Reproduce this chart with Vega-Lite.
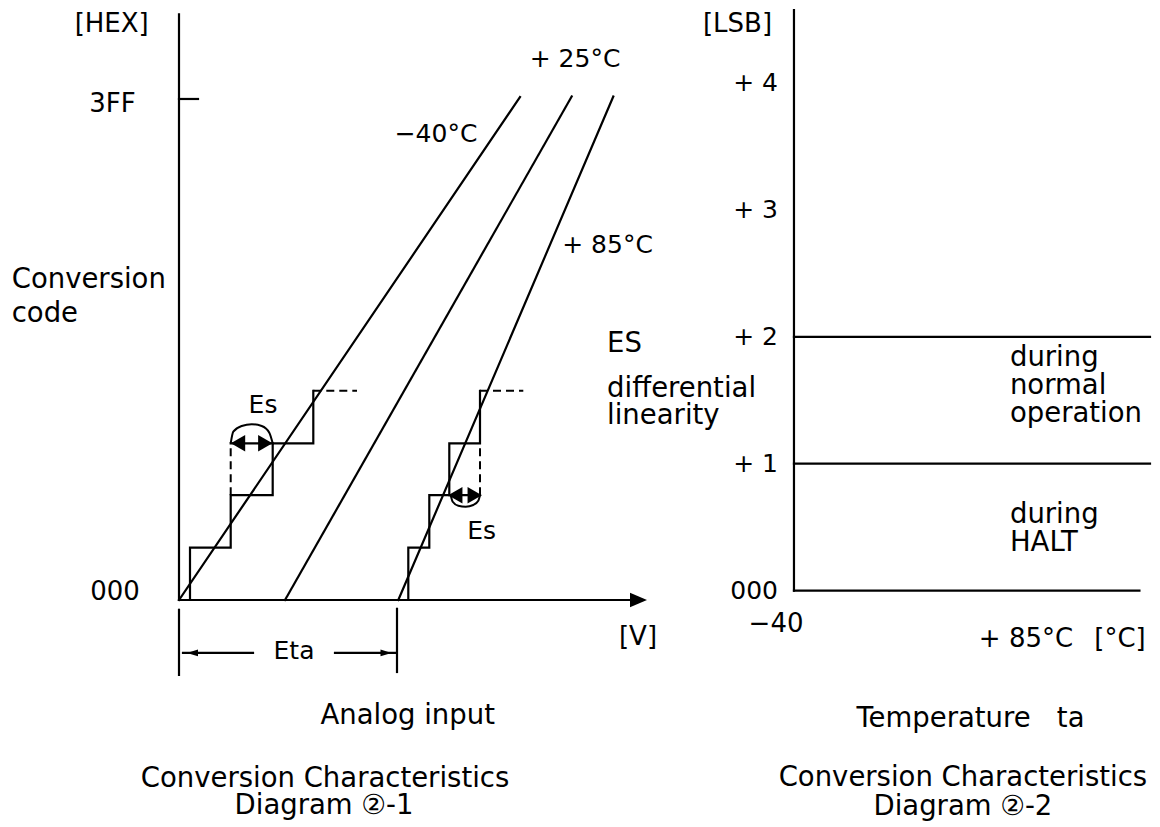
{
  "$schema": "https://vega.github.io/schema/vega-lite/v6.json",
  "width": 1160,
  "height": 827,
  "padding": 0,
  "autosize": {"type": "fit", "contains": "padding"},
  "background": "white",
  "config": {
    "view": {"stroke": null},
    "font": "DejaVu Sans",
    "text": {"font": "DejaVu Sans", "color": "black"},
    "line": {"color": "black", "strokeWidth": 2.2}
  },
  "datasets": {
    "leftLines": [
      {"id": "axis_y", "seq": 1, "v": 0, "code": 0}, {"id": "axis_y", "seq": 2, "v": 0, "code": 1196},
      {"id": "axis_x", "seq": 1, "v": 0, "code": 0}, {"id": "axis_x", "seq": 2, "v": 4.55, "code": 0},
      {"id": "tick_3ff", "seq": 1, "v": 0, "code": 1023}, {"id": "tick_3ff", "seq": 2, "v": 0.19, "code": 1023},
      {"id": "ta_m40", "seq": 1, "v": 0, "code": 0}, {"id": "ta_m40", "seq": 2, "v": 3.41, "code": 1027},
      {"id": "ta_25", "seq": 1, "v": 1.06, "code": 0}, {"id": "ta_25", "seq": 2, "v": 3.927, "code": 1028},
      {"id": "ta_85", "seq": 1, "v": 2.193, "code": 0}, {"id": "ta_85", "seq": 2, "v": 4.343, "code": 1028},
      {"id": "stair_m40", "seq": 1, "v": 0.11, "code": 0}, {"id": "stair_m40", "seq": 2, "v": 0.11, "code": 107},
      {"id": "stair_m40", "seq": 3, "v": 0.517, "code": 107}, {"id": "stair_m40", "seq": 4, "v": 0.517, "code": 214},
      {"id": "stair_m40", "seq": 5, "v": 0.937, "code": 214}, {"id": "stair_m40", "seq": 6, "v": 0.937, "code": 320},
      {"id": "stair_m40", "seq": 7, "v": 1.343, "code": 320}, {"id": "stair_m40", "seq": 8, "v": 1.343, "code": 427},
      {"id": "stair_85", "seq": 1, "v": 2.293, "code": 0}, {"id": "stair_85", "seq": 2, "v": 2.293, "code": 107},
      {"id": "stair_85", "seq": 3, "v": 2.503, "code": 107}, {"id": "stair_85", "seq": 4, "v": 2.503, "code": 214},
      {"id": "stair_85", "seq": 5, "v": 2.703, "code": 214}, {"id": "stair_85", "seq": 6, "v": 2.703, "code": 320},
      {"id": "stair_85", "seq": 7, "v": 3.01, "code": 320}, {"id": "stair_85", "seq": 8, "v": 3.01, "code": 427},
      {"id": "es_m40", "seq": 1, "v": 0.517, "code": 320}, {"id": "es_m40", "seq": 2, "v": 0.937, "code": 320},
      {"id": "es_85", "seq": 1, "v": 2.703, "code": 214}, {"id": "es_85", "seq": 2, "v": 3.01, "code": 214},
      {"id": "eta_tick_a", "seq": 1, "v": 0, "code": -20}, {"id": "eta_tick_a", "seq": 2, "v": 0, "code": -153},
      {"id": "eta_tick_b", "seq": 1, "v": 2.18, "code": -18}, {"id": "eta_tick_b", "seq": 2, "v": 2.18, "code": -147},
      {"id": "eta_arrow_l", "seq": 1, "v": 0.04, "code": -108}, {"id": "eta_arrow_l", "seq": 2, "v": 0.74, "code": -108},
      {"id": "eta_arrow_r", "seq": 1, "v": 1.56, "code": -108}, {"id": "eta_arrow_r", "seq": 2, "v": 2.16, "code": -108}
    ],
    "leftDashed": [
      {"id": "d1", "seq": 1, "v": 1.343, "code": 427}, {"id": "d1", "seq": 2, "v": 1.78, "code": 427},
      {"id": "d2", "seq": 1, "v": 0.517, "code": 214}, {"id": "d2", "seq": 2, "v": 0.517, "code": 320},
      {"id": "d3", "seq": 1, "v": 3.01, "code": 427}, {"id": "d3", "seq": 2, "v": 3.443, "code": 427},
      {"id": "d4", "seq": 1, "v": 3.01, "code": 214}, {"id": "d4", "seq": 2, "v": 3.01, "code": 320}
    ],
    "leftArcs": [
      {"id": "arc_m40", "seq": 1, "v": 0.517, "code": 320}, {"id": "arc_m40", "seq": 2, "v": 0.543, "code": 343.7},
      {"id": "arc_m40", "seq": 3, "v": 0.627, "code": 355.3}, {"id": "arc_m40", "seq": 4, "v": 0.727, "code": 358.8},
      {"id": "arc_m40", "seq": 5, "v": 0.827, "code": 355.3}, {"id": "arc_m40", "seq": 6, "v": 0.903, "code": 341.6},
      {"id": "arc_m40", "seq": 7, "v": 0.937, "code": 320},
      {"id": "arc_85", "seq": 1, "v": 2.717, "code": 214}, {"id": "arc_85", "seq": 2, "v": 2.737, "code": 200.7},
      {"id": "arc_85", "seq": 3, "v": 2.793, "code": 192.5}, {"id": "arc_85", "seq": 4, "v": 2.867, "code": 190.5},
      {"id": "arc_85", "seq": 5, "v": 2.943, "code": 194.0}, {"id": "arc_85", "seq": 6, "v": 2.993, "code": 202.8},
      {"id": "arc_85", "seq": 7, "v": 3.01, "code": 214}
    ],
    "leftHeads": [
      {"head": "axis-right", "kind": "axis", "v": 4.595, "code": 0},
      {"head": "es-left", "kind": "es", "v": 0.59, "code": 320},
      {"head": "es-right", "kind": "es", "v": 0.863, "code": 320},
      {"head": "es-left", "kind": "es", "v": 2.763, "code": 214},
      {"head": "es-right", "kind": "es", "v": 2.957, "code": 214},
      {"head": "eta-left", "kind": "eta", "v": 0.135, "code": -108},
      {"head": "eta-right", "kind": "eta", "v": 2.07, "code": -108}
    ],
    "leftText": [
      {"role": "tick", "label": "[HEX]", "v": -0.673, "code": 1159.8},
      {"role": "tick", "label": "3FF", "v": -0.665, "code": 997},
      {"role": "tick", "label": "000", "v": -0.64, "code": 0},
      {"role": "tick", "label": "[V]", "v": 4.59, "code": -91.9},
      {"role": "note", "label": "−40°C", "v": 2.57, "code": 936},
      {"role": "note", "label": "+ 25°C", "v": 3.96, "code": 1089},
      {"role": "note", "label": "+ 85°C", "v": 4.285, "code": 708},
      {"role": "note", "label": "Eta", "v": 1.15, "code": -120},
      {"role": "note", "label": "Es", "v": 0.84, "code": 381},
      {"role": "note", "label": "Es", "v": 3.027, "code": 124},
      {"role": "ytitle", "label": "Conversion", "v": -1.673, "code": 636.5},
      {"role": "ytitle", "label": "code", "v": -1.673, "code": 568.3},
      {"role": "caption", "label": "Analog input", "v": 2.287, "code": -254},
      {"role": "caption", "label": "Conversion Characteristics", "v": 1.46, "code": -382},
      {"role": "caption", "label": "Diagram ②-1", "v": 1.45, "code": -437}
    ],
    "rightLines": [
      {"id": "axis_y", "seq": 1, "t": -40, "lsb": 0}, {"id": "axis_y", "seq": 2, "t": -40, "lsb": 4.575},
      {"id": "axis_x", "seq": 1, "t": -40, "lsb": 0}, {"id": "axis_x", "seq": 2, "t": 143, "lsb": 0},
      {"id": "halt", "seq": 1, "t": -40, "lsb": 1}, {"id": "halt", "seq": 2, "t": 148.6, "lsb": 1},
      {"id": "normal", "seq": 1, "t": -40, "lsb": 2}, {"id": "normal", "seq": 2, "t": 148.6, "lsb": 2}
    ],
    "rightHeads": [
      {"head": "axis-right", "kind": "axis", "t": 147.2, "lsb": 0}
    ],
    "rightTicks": [
      {"label": "+ 4", "t": -48.47, "lsb": 4},
      {"label": "+ 3", "t": -48.47, "lsb": 3},
      {"label": "+ 2", "t": -48.47, "lsb": 2},
      {"label": "+ 1", "t": -48.47, "lsb": 1},
      {"label": "000", "t": -48.47, "lsb": 0}
    ],
    "rightText": [
      {"role": "tick", "label": "[LSB]", "t": -69.9, "lsb": 4.402},
      {"role": "tick", "label": "−40", "t": -49.5, "lsb": -0.326},
      {"role": "tick", "label": "+ 85°C", "t": 82.9, "lsb": -0.444},
      {"role": "tick", "label": "[°C]", "t": 132.7, "lsb": -0.444},
      {"role": "word", "label": "ES", "t": -139.0, "lsb": 1.88},
      {"role": "word", "label": "differential", "t": -139.0, "lsb": 1.525},
      {"role": "word", "label": "linearity", "t": -139.0, "lsb": 1.313},
      {"role": "word", "label": "during", "t": 74.4, "lsb": 1.77},
      {"role": "word", "label": "normal", "t": 74.4, "lsb": 1.55},
      {"role": "word", "label": "operation", "t": 74.4, "lsb": 1.33},
      {"role": "word", "label": "during", "t": 74.4, "lsb": 0.535},
      {"role": "word", "label": "HALT", "t": 74.4, "lsb": 0.315},
      {"role": "caption", "label": "Temperature\u00a0\u00a0\u00a0ta", "t": 53.5, "lsb": -1.077},
      {"role": "caption", "label": "Conversion Characteristics", "t": 49.5, "lsb": -1.542},
      {"role": "caption", "label": "Diagram ②-2", "t": 49.5, "lsb": -1.766}
    ]
  },
  "layer": [
    {
      "layer": [
        {
          "data": {"name": "leftLines"},
          "mark": {"type": "line", "strokeWidth": 2.2, "strokeCap": "square", "strokeJoin": "miter"},
          "encoding": {
            "x": {"field": "v", "type": "quantitative", "scale": {"domain": [-1.79, 9.81], "nice": false, "zero": false}, "axis": null},
            "y": {"field": "code", "type": "quantitative", "scale": {"domain": [-463.5, 1225.1], "nice": false, "zero": false}, "axis": null},
            "detail": {"field": "id"},
            "order": {"field": "seq"}
          }
        },
        {
          "data": {"name": "leftDashed"},
          "mark": {"type": "line", "strokeWidth": 2, "strokeDash": [8, 5]},
          "encoding": {
            "x": {"field": "v", "type": "quantitative", "scale": {"domain": [-1.79, 9.81], "nice": false, "zero": false}, "axis": null},
            "y": {"field": "code", "type": "quantitative", "scale": {"domain": [-463.5, 1225.1], "nice": false, "zero": false}, "axis": null},
            "detail": {"field": "id"},
            "order": {"field": "seq"}
          }
        },
        {
          "data": {"name": "leftArcs"},
          "mark": {"type": "line", "strokeWidth": 2, "interpolate": "monotone"},
          "encoding": {
            "x": {"field": "v", "type": "quantitative", "scale": {"domain": [-1.79, 9.81], "nice": false, "zero": false}, "axis": null},
            "y": {"field": "code", "type": "quantitative", "scale": {"domain": [-463.5, 1225.1], "nice": false, "zero": false}, "axis": null},
            "detail": {"field": "id"},
            "order": {"field": "seq"}
          }
        },
        {
          "data": {"name": "leftHeads"},
          "mark": {"type": "point", "filled": true, "color": "black", "opacity": 1, "strokeWidth": 0},
          "encoding": {
            "x": {"field": "v", "type": "quantitative", "scale": {"domain": [-1.79, 9.81], "nice": false, "zero": false}, "axis": null},
            "y": {"field": "code", "type": "quantitative", "scale": {"domain": [-463.5, 1225.1], "nice": false, "zero": false}, "axis": null},
            "shape": {"field": "head", "type": "nominal", "legend": null, "scale": {
              "domain": ["axis-right", "es-left", "es-right", "eta-left", "eta-right"],
              "range": ["M1,0L-1,-0.85L-1,0.85Z", "M-1,0L1,-1.15L1,1.15Z", "M1,0L-1,-1.15L-1,1.15Z", "M-1,0L1,-0.6L1,0.6Z", "M1,0L-1,-0.6L-1,0.6Z"]}},
            "size": {"field": "kind", "type": "ordinal", "legend": null, "scale": {"domain": ["axis", "es", "eta"], "range": [289, 121, 324]}}
          }
        },
        {
          "data": {"name": "leftText"},
          "transform": [{"filter": "datum.role === 'tick'"}],
          "mark": {"type": "text", "align": "center", "baseline": "alphabetic", "fontSize": 26},
          "encoding": {
            "x": {"field": "v", "type": "quantitative", "scale": {"domain": [-1.79, 9.81], "nice": false, "zero": false}, "axis": null},
            "y": {"field": "code", "type": "quantitative", "scale": {"domain": [-463.5, 1225.1], "nice": false, "zero": false}, "axis": null},
            "text": {"field": "label"}
          }
        },
        {
          "data": {"name": "leftText"},
          "transform": [{"filter": "datum.role === 'note'"}],
          "mark": {"type": "text", "align": "center", "baseline": "alphabetic", "fontSize": 25},
          "encoding": {
            "x": {"field": "v", "type": "quantitative", "scale": {"domain": [-1.79, 9.81], "nice": false, "zero": false}, "axis": null},
            "y": {"field": "code", "type": "quantitative", "scale": {"domain": [-463.5, 1225.1], "nice": false, "zero": false}, "axis": null},
            "text": {"field": "label"}
          }
        },
        {
          "data": {"name": "leftText"},
          "transform": [{"filter": "datum.role === 'ytitle'"}],
          "mark": {"type": "text", "align": "left", "baseline": "alphabetic", "fontSize": 27.5},
          "encoding": {
            "x": {"field": "v", "type": "quantitative", "scale": {"domain": [-1.79, 9.81], "nice": false, "zero": false}, "axis": null},
            "y": {"field": "code", "type": "quantitative", "scale": {"domain": [-463.5, 1225.1], "nice": false, "zero": false}, "axis": null},
            "text": {"field": "label"}
          }
        },
        {
          "data": {"name": "leftText"},
          "transform": [{"filter": "datum.role === 'caption'"}],
          "mark": {"type": "text", "align": "center", "baseline": "alphabetic", "fontSize": 27.5},
          "encoding": {
            "x": {"field": "v", "type": "quantitative", "scale": {"domain": [-1.79, 9.81], "nice": false, "zero": false}, "axis": null},
            "y": {"field": "code", "type": "quantitative", "scale": {"domain": [-463.5, 1225.1], "nice": false, "zero": false}, "axis": null},
            "text": {"field": "label"}
          }
        }
      ]
    },
    {
      "layer": [
        {
          "data": {"name": "rightLines"},
          "mark": {"type": "line", "strokeWidth": 2.2, "strokeCap": "square"},
          "encoding": {
            "x": {"field": "t", "type": "quantitative", "scale": {"domain": [-460.6, 153.9], "nice": false, "zero": false}, "axis": null},
            "y": {"field": "lsb", "type": "quantitative", "scale": {"domain": [-1.863, 4.654], "nice": false, "zero": false}, "axis": null},
            "detail": {"field": "id"},
            "order": {"field": "seq"}
          }
        },
        {
          "data": {"name": "rightHeads"},
          "mark": {"type": "point", "filled": true, "color": "black", "opacity": 1, "strokeWidth": 0},
          "encoding": {
            "x": {"field": "t", "type": "quantitative", "scale": {"domain": [-460.6, 153.9], "nice": false, "zero": false}, "axis": null},
            "y": {"field": "lsb", "type": "quantitative", "scale": {"domain": [-1.863, 4.654], "nice": false, "zero": false}, "axis": null},
            "shape": {"field": "head", "type": "nominal", "legend": null, "scale": {"domain": ["axis-right"], "range": ["M1,0L-1,-0.95L-1,0.95Z"]}},
            "size": {"field": "kind", "type": "ordinal", "legend": null, "scale": {"domain": ["axis"], "range": [361]}}
          }
        },
        {
          "data": {"name": "rightTicks"},
          "mark": {"type": "text", "align": "right", "baseline": "middle", "fontSize": 25},
          "encoding": {
            "x": {"field": "t", "type": "quantitative", "scale": {"domain": [-460.6, 153.9], "nice": false, "zero": false}, "axis": null},
            "y": {"field": "lsb", "type": "quantitative", "scale": {"domain": [-1.863, 4.654], "nice": false, "zero": false}, "axis": null},
            "text": {"field": "label"}
          }
        },
        {
          "data": {"name": "rightText"},
          "transform": [{"filter": "datum.role === 'tick'"}],
          "mark": {"type": "text", "align": "center", "baseline": "alphabetic", "fontSize": 26},
          "encoding": {
            "x": {"field": "t", "type": "quantitative", "scale": {"domain": [-460.6, 153.9], "nice": false, "zero": false}, "axis": null},
            "y": {"field": "lsb", "type": "quantitative", "scale": {"domain": [-1.863, 4.654], "nice": false, "zero": false}, "axis": null},
            "text": {"field": "label"}
          }
        },
        {
          "data": {"name": "rightText"},
          "transform": [{"filter": "datum.role === 'word'"}],
          "mark": {"type": "text", "align": "left", "baseline": "alphabetic", "fontSize": 27.5},
          "encoding": {
            "x": {"field": "t", "type": "quantitative", "scale": {"domain": [-460.6, 153.9], "nice": false, "zero": false}, "axis": null},
            "y": {"field": "lsb", "type": "quantitative", "scale": {"domain": [-1.863, 4.654], "nice": false, "zero": false}, "axis": null},
            "text": {"field": "label"}
          }
        },
        {
          "data": {"name": "rightText"},
          "transform": [{"filter": "datum.role === 'caption'"}],
          "mark": {"type": "text", "align": "center", "baseline": "alphabetic", "fontSize": 27.5},
          "encoding": {
            "x": {"field": "t", "type": "quantitative", "scale": {"domain": [-460.6, 153.9], "nice": false, "zero": false}, "axis": null},
            "y": {"field": "lsb", "type": "quantitative", "scale": {"domain": [-1.863, 4.654], "nice": false, "zero": false}, "axis": null},
            "text": {"field": "label"}
          }
        }
      ]
    }
  ],
  "resolve": {"scale": {"x": "independent", "y": "independent", "shape": "independent", "size": "independent"}}
}
